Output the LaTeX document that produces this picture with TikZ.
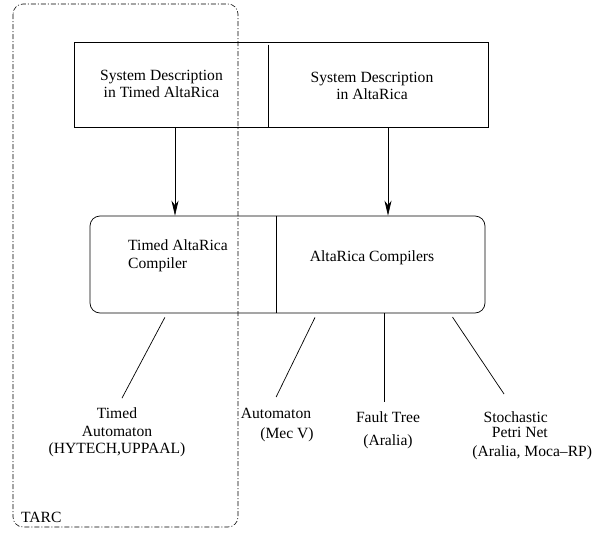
\documentclass[tikz,border=0pt]{standalone}
\usepackage{fontspec}
\setmainfont{Liberation Serif}
\usetikzlibrary{positioning,arrows.meta}

\tikzset{
  txt/.style={font=\fontsize{15.6}{17.5}\selectfont, inner sep=0pt},
  frame/.style={draw, line width=0.7pt},
  arr/.style={line width=0.7pt, -{Stealth[length=15pt,width=7pt,inset=4.5pt]}},
  link/.style={line width=0.7pt, shorten <=4.5pt},
}

\begin{document}
\begin{tikzpicture}[x=1pt,y=-1pt]
  \useasboundingbox (0,0) rectangle (592,533);
  \draw[line width=0.6pt, dash pattern=on 5pt off 2pt on 1pt off 2pt, rounded corners=10pt]
    (13,4) rectangle (238,527);
  \node[txt, anchor=base west] (tarc) at (21,522) {TARC};

  \node[frame, minimum width=414pt, minimum height=85pt] (sys) at (281,84.5) {};
  \node[txt, align=center] (tdesc) at (161.5,84) {System Description\\in Timed AltaRica};
  \node[txt, align=center] (adesc) at (372,86) {System Description\\in AltaRica};

  \node[frame, rounded corners=10pt, minimum width=395pt, minimum height=97pt] (comp) at (287.5,264.5) {};
  \node[txt, align=left, anchor=west] (tcomp) at (128,255.5) {Timed AltaRica\\Compiler};
  \node[txt] (acomp) at (372,258) {AltaRica Compilers};

  \coordinate (d1) at (268,0);
  \coordinate (d2) at (276,0);
  \draw[line width=0.7pt] (d1 |- sys.north) ++(0,3) -- (d1 |- sys.south);
  \draw[line width=0.7pt] (d2 |- comp.north) -- (d2 |- comp.south);

  \coordinate (a1) at (175,0);
  \coordinate (a2) at (388,0);
  \draw[arr] (a1 |- sys.south) -- (a1 |- comp.north);
  \draw[arr] (a2 |- sys.south) -- (a2 |- comp.north);

  \node[txt, align=center, anchor=north] (tam) at (117,407.5) {Timed\\Automaton};
  \node[txt, below=6pt of tam] (tamtool) {(HYTECH,UPPAAL)};
  \node[txt, anchor=north] (aut) at (276,407.5) {Automaton};
  \node[txt, below=9pt of aut, xshift=11pt] (auttool) {(Mec V)};
  \node[txt, anchor=north] (ft) at (388,411.5) {Fault Tree};
  \node[txt, below=12pt of ft] (fttool) {(Aralia)};
  \node[txt, align=right, anchor=north east] (spn) at (548,411.5) {Stochastic\\[-2.5pt]Petri Net};
  \node[txt, below=8pt of spn, xshift=16.5pt] (spntool) {(Aralia, Moca--RP)};

  \coordinate (o1) at (167,0);
  \coordinate (o2) at (317,0);
  \coordinate (o3) at (384,0);
  \coordinate (o4) at (450,0);
  \draw[link, shorten >=10.6pt] (o1 |- comp.south) -- (tam.north);
  \draw[link, shorten >=11.7pt] (o2 |- comp.south) -- ([xshift=-5pt]aut.north);
  \draw[link, shorten <=0pt, shorten >=9.5pt] (o3 |- comp.south) -- (o3 |- ft.north);
  \draw[link, shorten >=21pt] (o4 |- comp.south) -- (spn.north);
\end{tikzpicture}
\end{document}
